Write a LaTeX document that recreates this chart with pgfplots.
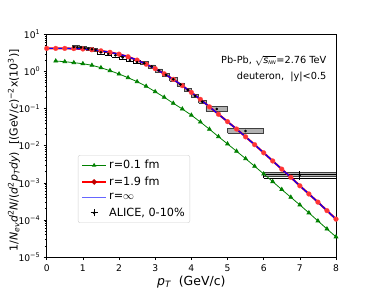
\documentclass[border=0pt]{standalone}
\usepackage{fontspec}
\setmainfont{DejaVu Sans}
\usepackage{pgfplots}
\usepackage{pgfplotstable}
\pgfplotsset{compat=1.18}
\definecolor{mgreen}{rgb}{0,0.5,0}

\pgfplotstableread{
x y
0 4.22
0.25 4.22
0.5 4.22
0.75 4.17
1.0 4.07
1.25 3.89
1.5 3.63
1.75 3.31
2.0 2.95
2.25 2.51
2.5 2.04
2.75 1.58
3.0 1.20
3.25 0.871
3.5 0.617
3.75 0.417
4.0 0.275
4.25 0.178
4.5 0.112
4.75 0.0708
5.0 0.0447
5.25 0.0282
5.5 0.0174
5.75 0.0107
6.0 6.46e-3
6.25 3.89e-3
6.5 2.34e-3
6.75 1.41e-3
7.0 8.32e-4
7.25 5.01e-4
7.5 3.02e-4
7.75 1.78e-4
8.0 1.05e-4
}\redtab

\pgfplotstableread{
x y
0.25 1.93
0.5 1.85
0.75 1.74
1.0 1.63
1.25 1.48
1.5 1.27
1.75 1.06
2.0 0.861
2.25 0.685
2.5 0.534
2.75 0.402
3.0 0.287
3.25 0.203
3.5 0.140
3.75 0.098
4.0 0.0668
4.25 0.0437
4.5 0.0279
4.75 0.0176
5.0 0.0112
5.25 7.11e-3
5.5 4.49e-3
5.75 2.80e-3
6.0 1.74e-3
6.25 1.08e-3
6.5 6.6e-4
6.75 4.09e-4
7.0 2.54e-4
7.25 1.55e-4
7.5 9.4e-5
7.75 5.7e-5
8.0 3.5e-5
}\greentab

\pgfplotstableread{
x y ey
0.75 4.6 0.05
0.85 4.55 0.05
0.95 4.45 0.05
1.05 4.3 0.05
1.15 4.15 0.05
1.25 4.0 0.05
1.35 3.85 0.05
1.5 3.3 0.04
1.7 3.0 0.04
1.9 2.75 0.04
2.1 2.4 0.03
2.3 2.05 0.03
2.5 1.8 0.03
2.7 1.68 0.03
2.9 1.38 0.03
3.1 1.08 0.02
3.3 0.82 0.02
3.5 0.62 0.02
3.7 0.45 0.015
3.9 0.32 0.01
4.1 0.22 0.008
4.3 0.155 0.006
4.7 0.098 0.004
5.5 0.025 0.0015
7.0 1.63e-3 0.00045
}\alicetab

\begin{document}
\begin{tikzpicture}
\begin{axis}[
  scale only axis, width=289.3bp, height=222.5bp,
  at={(0,0)}, anchor=south west,
  xmin=0, xmax=8, ymode=log, ymin=1e-5, ymax=10,
  xtick={0,1,2,3,4,5,6,7,8}, xticklabels={0,1,2,3,4,5,6,7,8},
  ytick={1e-5,1e-4,1e-3,1e-2,1e-1,1,10},
  yticklabels={10\textsuperscript{−5},10\textsuperscript{−4},10\textsuperscript{−3},10\textsuperscript{−2},10\textsuperscript{−1},10\textsuperscript{0},10\textsuperscript{1}},
  tick align=outside, tick pos=left,
  major tick length=3bp, minor tick length=1.8bp,
  every tick/.style={black, line width=0.6bp},
  axis line style={line width=0.7bp},
  tick label style={font=\fontsize{9.2}{10}\selectfont},
  xticklabel style={yshift=-1bp},
  xlabel={{\itshape p}\textsubscript{\itshape T}\ \ (GeV/c)},
  xlabel style={font=\fontsize{12.5}{14}\selectfont, at={(axis description cs:0.5,-0.112)}, anchor=center},
  ylabel={1/{\itshape N}\textsubscript{\itshape ev}{\itshape d}\textsuperscript{2}{\itshape N}/({\itshape d}\textsuperscript{2}{\itshape p}\textsubscript{\itshape T}{\itshape dy})\ \ [(GeV/{\itshape c})\textsuperscript{−2}x(10\textsuperscript{3})]},
  ylabel style={font=\fontsize{11}{12}\selectfont, at={(axis description cs:-0.113,0.48)}, anchor=center},
  legend style={at={(axis description cs:0.108,0.458)}, anchor=north west,
    draw=black!18, rounded corners=2bp, font=\fontsize{11.3}{13}\selectfont,
    row sep=2.6bp, inner xsep=3bp, inner ysep=3bp},
  legend cell align=left,
  sysbox/.style={fill=gray!60, draw=black!75, line width=0.5bp, forget plot},
  openbox/.style={draw=black, line width=0.6bp, forget plot},
]
\foreach \xa/\xb/\ya/\yb in {0.7/0.8/4.18/5.06, 0.8/0.9/4.14/5.0, 0.9/1.0/4.05/4.9, 1.0/1.1/3.91/4.73, 1.1/1.2/3.77/4.57, 1.2/1.3/3.64/4.4, 1.3/1.4/3.5/4.24,
  2.6/2.8/1.53/1.85, 2.8/3.0/1.25/1.52, 3.0/3.2/0.98/1.19, 3.2/3.4/0.745/0.90, 3.4/3.6/0.564/0.682, 3.6/3.8/0.409/0.495, 3.8/4.0/0.291/0.352, 4.0/4.2/0.20/0.242, 4.2/4.4/0.141/0.171,
  4.4/5.0/0.0867/0.113, 5.0/6.0/0.0217/0.0296, 6.0/8.0/1.47e-3/1.88e-3} {
  \edef\doit{\noexpand\addplot[sysbox] coordinates {(\xa,\ya) (\xb,\ya) (\xb,\yb) (\xa,\yb) (\xa,\ya)};}
  \doit
}
\foreach \xa/\xb/\ya/\yb in {1.4/1.6/3.0/3.63, 1.6/1.8/2.73/3.3, 1.8/2.0/2.5/3.03, 2.0/2.2/2.18/2.64, 2.2/2.4/1.86/2.26, 2.4/2.6/1.64/1.98, 6.0/8.0/1.33e-3/1.71e-3} {
  \edef\doit{\noexpand\addplot[openbox] coordinates {(\xa,\ya) (\xb,\ya) (\xb,\yb) (\xa,\yb) (\xa,\ya)};}
  \doit
}
\addplot[mgreen, line width=0.8bp, mark=triangle*, mark size=2.1bp, mark options={fill=mgreen, draw=mgreen},
  legend image code/.code={\draw[mgreen, line width=0.8bp] (0bp,0bp)--(24bp,0bp); \fill[mgreen] (12bp,1.7bp) -- (10.4bp,-1bp) -- (13.6bp,-1bp) -- cycle;}] table[x=x,y=y] {\greentab};
\addlegendentry{r=0.1 fm}
\addplot[red, line width=2bp, mark=*, mark size=2.4bp, mark options={fill=red!80!white, draw=red!70!white, line width=0.3bp},
  legend image code/.code={\draw[red, line width=2bp] (0bp,0bp)--(24bp,0bp); \fill[red!75!black] (12bp,0bp) circle (1.5bp);}] table[x=x,y=y] {\redtab};
\addlegendentry{r=1.9 fm}
\addplot[blue, line width=1.2bp,
  legend image code/.code={\draw[blue!60!white, line width=1.5bp] (0bp,0bp)--(24bp,0bp);}] table[x=x,y=y] {\redtab};
\addlegendentry{r=$\infty$}
\addplot[black, only marks, mark=*, mark size=1.1bp,
  legend image code/.code={\draw[black, line width=0.8bp] (12bp,-3.5bp)--(12bp,3.5bp); \draw[black, line width=0.8bp] (8.5bp,0bp)--(15.5bp,0bp); \fill[black] (12bp,0bp) circle (1.1bp);},
  error bars/.cd, y dir=both, y explicit, error bar style={line width=0.8bp}, error mark=none]
  table[x=x, y=y, y error=ey] {\alicetab};
\addlegendentry{ALICE, 0-10\%}
\node[anchor=base east, font=\fontsize{9.8}{11}\selectfont] at (axis description cs:0.979,0.870) {Pb-Pb, $\sqrt{\mbox{\itshape s}_{\mbox{\tiny\itshape NN}}}$=2.76 TeV};
\node[anchor=base east, font=\fontsize{9.8}{11}\selectfont] at (axis description cs:0.979,0.800) {deuteron,\ \ |y|<0.5};
\end{axis}
\pgfresetboundingbox
\path (-46.7bp,-39bp) rectangle (327.3bp,257bp);
\end{tikzpicture}
\end{document}
